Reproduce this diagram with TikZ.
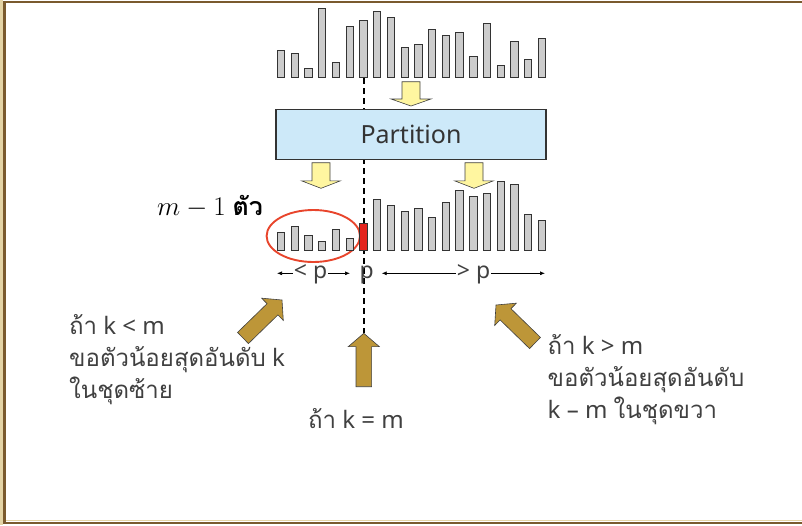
\RequirePackage{fix-cm}
\documentclass[tikz,border=0pt]{standalone}
\usepackage{fontspec}
\setmainfont{Noto Sans}
\newfontfamily\thaifont[Script=Thai]{Loma}
\newcommand{\thai}[1]{{\thaifont #1}}
\usetikzlibrary{calc, arrows.meta}
\definecolor{framebrown}{RGB}{122,90,46}
\definecolor{framebeige}{RGB}{228,212,166}
\definecolor{bargray}{RGB}{204,204,204}
\definecolor{boxblue}{RGB}{205,233,249}
\definecolor{paleyellow}{RGB}{255,246,160}
\definecolor{gold}{RGB}{189,150,56}
\definecolor{textgray}{RGB}{64,64,64}
\definecolor{ringred}{RGB}{232,69,44}
\definecolor{pivotred}{RGB}{228,36,30}
% block arrow: [style]{tail}{tip}{shaft half}{head half}{head length}
\newcommand{\blockarr}[6][]{%
  \coordinate (hb) at ($(#3)!#6!(#2)$);
  \filldraw[#1] ($(#2)!#4!90:(#3)$) -- ($(hb)!#4!90:(#3)$) -- ($(hb)!#5!90:(#3)$) -- (#3)
    -- ($(hb)!#5!-90:(#3)$) -- ($(hb)!#4!-90:(#3)$) -- ($(#2)!#4!-90:(#3)$) -- cycle;}

\begin{document}
\begin{tikzpicture}[x=1pt, y=-1pt, >={Latex[length=5pt, width=4pt]},
  bar/.style={draw=black!80, fill=bargray, line width=0.9pt},
  pivot/.style={bar, fill=pivotred},
  yel/.style={draw=black!75, fill=paleyellow, line width=0.6pt},
  brn/.style={draw=black!75, fill=gold, line width=0.6pt},
  lbl/.style={text=textgray, font=\fontsize{23}{25}\selectfont, inner sep=1pt},
  thaitext/.style={text=textgray, align=left, inner sep=0pt,
               font=\fontsize{24}{32}\selectfont}]
  \useasboundingbox (0,0) rectangle (802,525);
  % frame
  \fill[framebeige] (0,0) rectangle (2.7,525);
  \draw[framebeige, line width=1pt] (2.7,520.5) -- (802,520.5);
  \draw[framebrown, line width=2.8pt] (830,2) -- (4.2,2) -- (4.2,523) -- (830,523);

  % pivot line
  \coordinate (dtop) at (364,78);
  \coordinate (dbot) at (364,333);
  \draw[line width=1.8pt, dash pattern=on 6pt off 4pt] (dtop) -- (dbot);

  % input bars
  \foreach \h [count=\i from 0] in {9,8,3,23,5,17,19,22,20,10,11,16,14,15,7,18,4,12,6,13}
    \draw[bar] ({277.3+13.74*\i},77.7) rectangle +(7.3,{-3*\h});

  \coordinate (ya1) at (411,81.7);  \coordinate (yb1) at (411,106);
  \blockarr[yel]{ya1}{yb1}{9pt}{20pt}{7pt}

  \node[draw=black!80, fill=boxblue, line width=1.1pt, minimum width=270, minimum height=49.7,
        text=black!80, font=\fontsize{25}{28}\selectfont] (part) at (411,134.2) {Partition};

  \coordinate (ya2) at (321,162.7);  \coordinate (yb2) at (321,188.3);
  \coordinate (ya3) at (474,162.7);  \coordinate (yb3) at (474,188.3);
  \blockarr[yel]{ya2}{yb2}{9pt}{19.5pt}{7.5pt}
  \blockarr[yel]{ya3}{yb3}{9pt}{19.5pt}{7.5pt}

  % partitioned bars
  \draw[ringred, line width=1.9pt] (313.3,236) ellipse [x radius=46.7, y radius=26];
  \foreach \h [count=\i from 0] in {6,8,5,3,7,4}
    \draw[bar] ({277.3+13.74*\i},250.7) rectangle +(7.3,{-3*\h});
  \draw[pivot] ({277.3+13.74*6},250.7) rectangle +(7.3,-27);
  \foreach \h [count=\i from 7] in {17,15,13,14,11,16,20,18,19,23,22,12,10}
    \draw[bar] ({277.3+13.74*\i},250.7) rectangle +(7.3,{-3*\h});

  \node[anchor=base west, inner sep=0pt, font=\fontsize{27}{30}\selectfont] (mlab) at (157,215)
    {$m-1$ {\thaifont\bfseries\fontsize{25}{27}\selectfont ตัว}};

  % range labels
  \node[lbl, anchor=base] (lt) at (310.5,278.5) {< p};
  \node[lbl, anchor=base] (pv) at (366.7,278.5) {p};
  \node[lbl, anchor=base] (gt) at (473.5,278.5) {> p};
  \coordinate (ltl) at (277,273.3);  \coordinate (ltr) at (350,273.3);
  \coordinate (gtl) at (381.7,273.3); \coordinate (gtr) at (545,273.3);
  \draw[->, line width=0.7pt] (lt.west |- ltl) -- (ltl);
  \draw[->, line width=0.7pt] (lt.east |- ltr) -- (ltr);
  \draw[->, line width=0.7pt] (gt.west |- gtl) -- (gtl);
  \draw[->, line width=0.7pt] (gt.east |- gtr) -- (gtr);

  % cases
  \coordinate (ba1) at (243,338);  \coordinate (bb1) at (282,300);
  \coordinate (ba2) at (363.8,386.7); \coordinate (bb2) at (363.8,333.3);
  \coordinate (ba3) at (535,343);  \coordinate (bb3) at (496,305);
  \blockarr[brn]{ba1}{bb1}{7.8pt}{15.5pt}{13.3pt}
  \blockarr[brn]{ba2}{bb2}{7.8pt}{15.5pt}{13.3pt}
  \blockarr[brn]{ba3}{bb3}{7.8pt}{15.5pt}{13.3pt}

  \node[thaitext, anchor=base west] (less) at (69,398)
    {\thai{ถ้า} k < m\\\thai{ขอตัวน้อยสุดอันดับ} k\\\thai{ในชุดซ้าย}};
  \node[thaitext, anchor=base west] (more) at (547.5,418)
    {\thai{ถ้า} k > m\\\thai{ขอตัวน้อยสุดอันดับ}\\k – m \thai{ในชุดขวา}};
  \node[thaitext, anchor=base] (equal) at (356,428) {\thai{ถ้า} k = m};
\end{tikzpicture}
\end{document}
